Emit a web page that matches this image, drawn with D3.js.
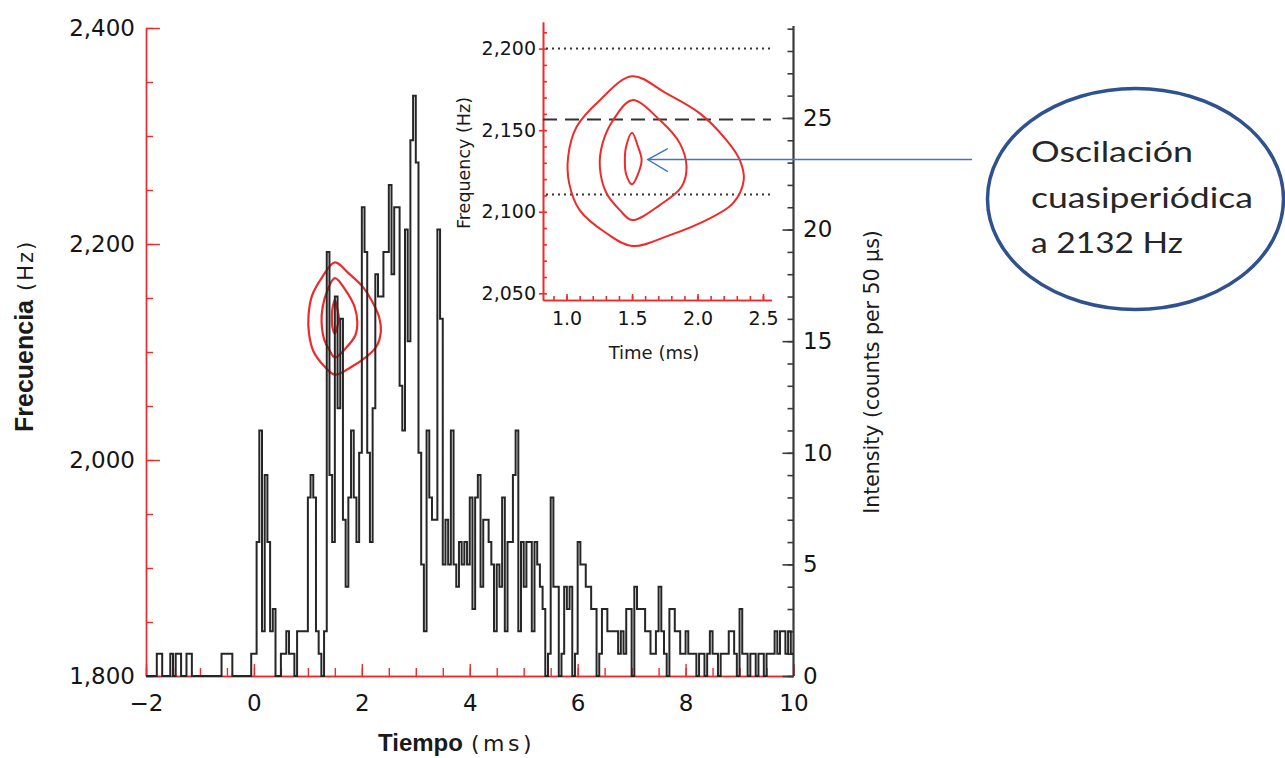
<!DOCTYPE html>
<html>
<head>
<meta charset="utf-8">
<script src="https://cdn.jsdelivr.net/npm/d3@7"></script>
<style>
body{margin:0;background:#fff;}
svg{display:block;}
.tk text{font-family:'DejaVu Sans',sans-serif;fill:#151515;}
</style>
</head>
<body>
<div id="chart_div"></div>
<script>

////////////////////////////////////////
// data
////////////////////////////////////////

// photon counts per 50 us bin, starting at -2 ms
var binStart = -2;
var binWidth = 0.05;
var binCounts = [
	0,0,0,0,1,1,0,0,0,1,
	0,1,1,0,0,1,1,0,0,0,
	0,0,0,0,0,0,0,0,1,1,
	1,1,0,0,0,0,0,0,0,1,
	1,6,11,2,9,6,2,3,0,0,
	1,1,2,1,1,0,2,2,2,2,
	8,9,8,2,1,0,2,19,9,6,
	17,12,16,7,4,8,11,8,6,10,
	21,19,10,6,12,18,17,17,19,19,
	22,18,21,21,13,11,20,15,24,26,
	23,10,5,2,11,8,7,7,20,16,
	5,7,5,11,5,4,6,5,6,5,
	8,3,8,9,4,7,7,6,5,2,
	5,4,8,2,6,6,9,11,2,6,
	4,6,6,2,6,5,4,3,0,1,
	8,4,4,0,1,4,3,4,0,1,
	6,5,5,4,4,3,3,0,1,3,
	3,2,2,2,2,1,2,1,3,3,
	0,4,3,3,3,2,2,1,1,2,
	4,2,1,0,3,3,2,2,1,1,
	2,1,1,1,0,1,1,0,1,2,
	1,1,0,1,1,1,2,2,1,0,
	3,1,1,0,1,1,0,1,1,0,
	1,1,1,2,1,2,2,1,2,1
];

// QPO contours [time ms, frequency Hz]
var contourOuter = [[1.50,2183],[1.763,2172.5],[2.018,2160.3],[2.221,2143.9],[2.323,2131.7],[2.353,2119.4],[2.27,2105.1],[2.094,2096],[1.789,2085.7],[1.50,2079],[1.305,2086.8],[1.10,2101],[1.02,2117.4],[1.012,2133.7],[1.076,2152],[1.254,2168.4]];
var contourMiddle = [[1.50,2168.4],[1.712,2156.2],[1.865,2141.9],[1.916,2127.6],[1.878,2115.3],[1.712,2104.1],[1.50,2094.9],[1.407,2101],[1.305,2111.3],[1.254,2127.6],[1.275,2141.9],[1.356,2156.2]];
var contourInner = [[1.50,2148.4],[1.545,2140],[1.573,2131.7],[1.545,2123],[1.50,2116.8],[1.455,2123],[1.445,2131.7],[1.455,2140]];
var contours = [contourOuter,contourMiddle,contourInner];

var qpoFreq = 2132;
var insetDotted = [2200,2110.5];
var insetDashed = [2156.5];

var timeTicks = [-2,0,2,4,6,8,10];
var freqTicks = [1800,2000,2200,2400];
var countTicks = [0,5,10,15,20,25];
var insetTimeTicks = [1.0,1.5,2.0,2.5];
var insetFreqTicks = [2050,2100,2150,2200];

var calloutLines = ['Oscilación','cuasiperiódica','a 2132 Hz'];

////////////////////////////////////////
// svg + scales
////////////////////////////////////////

var W = 1285, H = 758;
var red = '#ee2b2b';

var vis = d3.select('#chart_div')
	.append('svg')
	.attr('width',W)
	.attr('height',H);

var x = d3.scaleLinear().domain([-2,10]).range([146,793.5]);
var yF = d3.scaleLinear().domain([1800,2400]).range([676,28]);
var yC = d3.scaleLinear().domain([0,29.03]).range([676,28]);

var xIn = d3.scaleLinear().domain([0.82,2.565]).range([543,771.5]);
var yIn = d3.scaleLinear().domain([2045.9,2216.3]).range([300,22]);

function styleAxis(g,col,w,fs){
	g.attr('class','tk');
	g.select('.domain').attr('stroke',col).attr('stroke-width',w);
	g.selectAll('.tick line').attr('stroke',col).attr('stroke-width',w);
	g.selectAll('.tick text').attr('font-size',fs);
}

////////////////////////////////////////
// main axes
////////////////////////////////////////

// left, frequency (red)
var gL1 = vis.append('g').attr('transform','translate(146,0)')
	.call(d3.axisLeft(yF).tickValues(d3.range(1800,2401,50)).tickSizeInner(-7).tickSizeOuter(0).tickFormat(''));
styleAxis(gL1,red,1.4,0);
var gL2 = vis.append('g').attr('transform','translate(146,0)')
	.call(d3.axisLeft(yF).tickValues(freqTicks).tickSizeInner(-14).tickSizeOuter(0).tickPadding(11).tickFormat(d3.format(',')));
styleAxis(gL2,red,1.4,23);

// bottom, time (red)
var gB1 = vis.append('g').attr('transform','translate(0,676)')
	.call(d3.axisBottom(x).tickValues(d3.range(-2,10.01,0.5)).tickSizeInner(-8).tickSizeOuter(0).tickFormat(''));
styleAxis(gB1,red,1.4,0);
var gB2 = vis.append('g').attr('transform','translate(0,676)')
	.call(d3.axisBottom(x).tickValues(timeTicks).tickSizeInner(-12).tickSizeOuter(0).tickPadding(18.5));
styleAxis(gB2,red,1.4,23);

// right, intensity (dark)
var gR1 = vis.append('g').attr('transform','translate(793.5,0)')
	.call(d3.axisRight(yC).tickValues(d3.range(0,30,1)).tickSizeInner(-6).tickSizeOuter(0).tickFormat(''));
styleAxis(gR1,'#3a3a3a',1.6,0);
var gR2 = vis.append('g').attr('transform','translate(793.5,0)')
	.call(d3.axisRight(yC).tickValues(countTicks).tickSizeInner(-11).tickSizeOuter(0).tickPadding(9.5));
styleAxis(gR2,'#3a3a3a',1.6,23);
gR1.select('.domain').attr('stroke-width',2.2).attr('d','M0,676V26');
gR2.select('.domain').remove();

////////////////////////////////////////
// contours + histogram
////////////////////////////////////////

var contourLine = d3.line()
	.x(function(d){ return x(d[0]); })
	.y(function(d){ return yF(d[1]); })
	.curve(d3.curveCatmullRomClosed.alpha(0.5));

vis.selectAll('path.main_contour')
	.data(contours)
	.enter()
		.append('path')
		.attr('class','main_contour')
		.attr('d',contourLine)
		.attr('fill','none')
		.attr('stroke',red)
		.attr('stroke-width',2.2);

var histPoints = binCounts.map(function(c,i){
	return [binStart+i*binWidth,c];
});
histPoints.push([binStart+binCounts.length*binWidth,binCounts[binCounts.length-1]]);

var histLine = d3.line()
	.x(function(d){ return x(d[0]); })
	.y(function(d){ return yC(d[1]); })
	.curve(d3.curveStepAfter);

vis.append('path')
	.datum(histPoints)
	.attr('d',histLine)
	.attr('fill','none')
	.attr('stroke','#262626')
	.attr('stroke-width',2)
	.attr('stroke-linejoin','miter');

////////////////////////////////////////
// main titles
////////////////////////////////////////

var xt = vis.append('text')
	.attr('x',378)
	.attr('y',751)
	.attr('fill','#1a1a1a');
xt.append('tspan')
	.attr('font-family','Liberation Sans, Arial, sans-serif')
	.attr('font-weight','bold')
	.attr('font-size',24)
	.text('Tiempo');
xt.append('tspan')
	.attr('dx',8)
	.attr('font-family','DejaVu Sans, sans-serif')
	.attr('font-size',22)
	.attr('letter-spacing',3.5)
	.text('(ms)');

var yt = vis.append('text')
	.attr('transform','translate(33,432) rotate(-90)')
	.attr('fill','#1a1a1a');
yt.append('tspan')
	.attr('font-family','Liberation Sans, Arial, sans-serif')
	.attr('font-weight','bold')
	.attr('font-size',25)
	.text('Frecuencia');
yt.append('tspan')
	.attr('dx',9)
	.attr('font-family','DejaVu Sans, sans-serif')
	.attr('font-size',21)
	.attr('letter-spacing',2)
	.text('(Hz)');

vis.append('text')
	.attr('transform','translate(879,372) rotate(-90)')
	.attr('text-anchor','middle')
	.attr('font-family','DejaVu Sans, sans-serif')
	.attr('font-size',20.5)
	.attr('fill','#1a1a1a')
	.text('Intensity (counts per 50 µs)');

////////////////////////////////////////
// inset
////////////////////////////////////////

var inset = vis.append('g').attr('class','inset');

var gIL1 = inset.append('g').attr('transform','translate(543,0)')
	.call(d3.axisLeft(yIn).tickValues(d3.range(2050,2211,10)).tickSizeInner(-4).tickSizeOuter(0).tickFormat(''));
styleAxis(gIL1,red,1.6,0);
var gIL2 = inset.append('g').attr('transform','translate(543,0)')
	.call(d3.axisLeft(yIn).tickValues(insetFreqTicks).tickSizeInner(4).tickSizeOuter(0).tickPadding(3).tickFormat(d3.format(',')));
styleAxis(gIL2,red,1.6,19);

var gIB1 = inset.append('g').attr('transform','translate(0,300)')
	.call(d3.axisBottom(xIn).tickValues(d3.range(0.9,2.51,0.1)).tickSizeInner(-4).tickSizeOuter(0).tickFormat(''));
styleAxis(gIB1,red,1.6,0);
var gIB2 = inset.append('g').attr('transform','translate(0,300)')
	.call(d3.axisBottom(xIn).tickValues(insetTimeTicks).tickSizeInner(-6).tickSizeOuter(0).tickPadding(11.5).tickFormat(d3.format('.1f')));
styleAxis(gIB2,red,1.6,19);

inset.selectAll('line.dotted')
	.data(insetDotted)
	.enter()
		.append('line')
		.attr('class','dotted')
		.attr('x1',546).attr('x2',771)
		.attr('y1',function(d){ return yIn(d); })
		.attr('y2',function(d){ return yIn(d); })
		.attr('stroke','#333')
		.attr('stroke-width',2)
		.attr('stroke-dasharray','2,4');

inset.selectAll('line.dashed')
	.data(insetDashed)
	.enter()
		.append('line')
		.attr('class','dashed')
		.attr('x1',543).attr('x2',771)
		.attr('y1',function(d){ return yIn(d); })
		.attr('y2',function(d){ return yIn(d); })
		.attr('stroke','#333')
		.attr('stroke-width',2)
		.attr('stroke-dasharray','14,8');

var insetContourLine = d3.line()
	.x(function(d){ return xIn(d[0]); })
	.y(function(d){ return yIn(d[1]); })
	.curve(d3.curveCatmullRomClosed.alpha(0.5));

inset.selectAll('path.inset_contour')
	.data(contours)
	.enter()
		.append('path')
		.attr('class','inset_contour')
		.attr('d',insetContourLine)
		.attr('fill','none')
		.attr('stroke',red)
		.attr('stroke-width',2);

inset.append('text')
	.attr('x',654)
	.attr('y',359)
	.attr('text-anchor','middle')
	.attr('font-family','DejaVu Sans, sans-serif')
	.attr('font-size',18)
	.attr('fill','#1a1a1a')
	.text('Time (ms)');

inset.append('text')
	.attr('transform','translate(470,163) rotate(-90)')
	.attr('text-anchor','middle')
	.attr('font-family','DejaVu Sans, sans-serif')
	.attr('font-size',17.5)
	.attr('fill','#1a1a1a')
	.text('Frequency (Hz)');

////////////////////////////////////////
// callout
////////////////////////////////////////

var tipX = xIn(1.62), tipY = yIn(qpoFreq);

vis.append('line')
	.attr('x1',972).attr('x2',tipX)
	.attr('y1',tipY).attr('y2',tipY)
	.attr('stroke','#4472c4')
	.attr('stroke-width',1.4);
vis.append('path')
	.attr('d','M'+(tipX+20)+','+(tipY-11)+'L'+tipX+','+tipY+'L'+(tipX+20)+','+(tipY+12))
	.attr('fill','none')
	.attr('stroke','#4472c4')
	.attr('stroke-width',1.4);

vis.append('ellipse')
	.attr('cx',1135.5)
	.attr('cy',199)
	.attr('rx',148)
	.attr('ry',110.5)
	.attr('fill','#fff')
	.attr('stroke','#2f528f')
	.attr('stroke-width',3.5);

var calloutWidths = [162,222,152];
vis.selectAll('text.callout')
	.data(calloutLines)
	.enter()
		.append('text')
		.attr('class','callout')
		.attr('x',1031)
		.attr('y',function(d,i){ return 162+i*45.5; })
		.attr('font-family','Lato, sans-serif')
		.attr('font-size',28)
		.attr('fill','#262626')
		.attr('textLength',function(d,i){ return calloutWidths[i]; })
		.attr('lengthAdjust','spacingAndGlyphs')
		.text(function(d){ return d; });

</script>
</body>
</html>
